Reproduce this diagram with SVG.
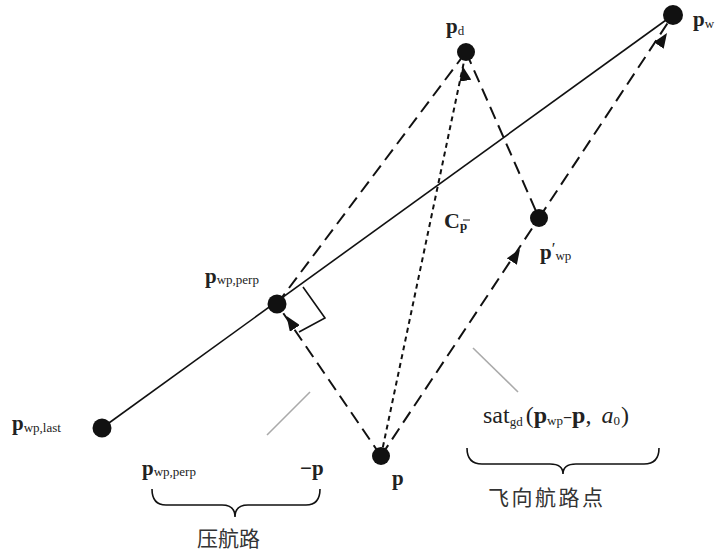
<svg xmlns="http://www.w3.org/2000/svg" width="716" height="552" viewBox="0 0 716 552">
<style>
.n{fill:#111}
.ln{stroke:#111;stroke-width:1.6;fill:none}
.ld{stroke:#111;stroke-width:2;fill:none;stroke-dasharray:13 7}
.ls{stroke:#111;stroke-width:2;fill:none;stroke-dasharray:5 4}
.lg{stroke:#aaa;stroke-width:1.6;fill:none}
.t{font-family:"Liberation Serif",serif;fill:#222}
.b{font-weight:bold;font-size:21px}
.s{font-size:13px}
.m{font-size:24px}
.cj{font-family:"Liberation Serif","Noto Sans CJK SC",sans-serif;font-size:21px;fill:#333}
</style>
<defs>
<marker id="ah" markerUnits="userSpaceOnUse" markerWidth="16" markerHeight="12" refX="15" refY="6" orient="auto">
<path d="M0,0 L15,6 L0,12 Z" fill="#111"/>
</marker>
</defs>
<rect width="716" height="552" fill="#fff"/>
<g id="connectors">
<line class="ln" x1="102" y1="428" x2="673" y2="15"/>
<line class="ld" x1="381" y1="456" x2="277" y2="304"/>
<line class="ld" x1="277" y1="304" x2="466" y2="52"/>
<line class="ls" x1="381" y1="456" x2="466" y2="52"/>
<line class="ld" x1="381" y1="456" x2="539" y2="218"/>
<line class="ld" x1="466" y1="52" x2="539" y2="218"/>
<line class="ld" x1="539" y1="218" x2="673" y2="15"/>
<path d="M292.6,325.1 L286.5,316" marker-end="url(#ah)" stroke="none"/>
<path d="M464.7,77 L462.6,66" marker-end="url(#ah)" stroke="none"/>
<path d="M513.5,259 L520,249" marker-end="url(#ah)" stroke="none"/>
<path d="M661,42 L667,33" marker-end="url(#ah)" stroke="none"/>
<polyline class="ln" points="303,287 325,318 299,332"/>
<line class="lg" x1="267" y1="435" x2="310" y2="392"/>
<line class="lg" x1="473" y1="348" x2="518" y2="392"/>
<path class="ln" d="M152,489 Q152,505 166,505 L222,505 Q235,505 235,517 Q235,505 248,505 L306,505 Q320,505 320,489"/>
<path class="ln" d="M467,448 Q467,464 482,464 L550,464 Q563,464 563,474 Q563,464 576,464 L644,464 Q659,464 659,448"/>
</g>
<g id="p_d"><circle class="n" cx="466" cy="52" r="9"/><text class="t" x="446" y="33"><tspan class="b">p</tspan><tspan class="s" dy="2">d</tspan></text></g>
<g id="p_w"><circle class="n" cx="673" cy="15" r="10"/><text class="t" x="693" y="26"><tspan class="b">p</tspan><tspan class="s" dy="2">w</tspan></text></g>
<g id="p_wp_prime"><circle class="n" cx="539" cy="218" r="9"/><text class="t" x="540" y="259"><tspan class="b">p</tspan><tspan font-size="17" dy="-5">′</tspan><tspan class="s" dy="6">wp</tspan></text></g>
<g id="p_wp_perp"><circle class="n" cx="277" cy="304" r="9.5"/><text class="t" x="205" y="283"><tspan class="b">p</tspan><tspan class="s" dy="1">wp,perp</tspan></text></g>
<g id="p_wp_last"><circle class="n" cx="102" cy="428" r="9.5"/><text class="t" x="12" y="430"><tspan class="b">p</tspan><tspan class="s" dy="2">wp,last</tspan></text></g>
<g id="p"><circle class="n" cx="381" cy="456" r="9"/><text class="t b" x="392" y="485">p</text></g>
<g id="c_pbar"><text class="t" x="444" y="228"><tspan font-weight="bold" font-size="22">C</tspan><tspan class="s" font-weight="bold" dy="2">p</tspan></text><line x1="463" y1="220" x2="470" y2="220" stroke="#222" stroke-width="1"/></g>
<g id="label_perp"><text class="t" x="142" y="475"><tspan class="b">p</tspan><tspan class="s" dy="1">wp,perp</tspan></text><text class="t b" x="300" y="475">−p</text></g>
<g id="label_sat"><text class="t" x="483" y="423"><tspan class="m">sat</tspan><tspan class="s" dy="3">gd</tspan><tspan class="m" dy="-3" dx="3">(</tspan><tspan class="m" font-weight="bold">p</tspan><tspan class="s" dy="2">wp</tspan><tspan font-size="16" font-weight="bold" dy="-2">−</tspan><tspan class="m" font-weight="bold">p</tspan><tspan class="m">,</tspan><tspan class="m" font-style="italic" dx="10">a</tspan><tspan class="s" dy="2">0</tspan><tspan class="m" dy="-2" dx="1">)</tspan></text></g>
<text class="cj" x="197" y="546">压航路</text>
<text class="cj" x="488" y="505" letter-spacing="2.5">飞向航路点</text>
</svg>
